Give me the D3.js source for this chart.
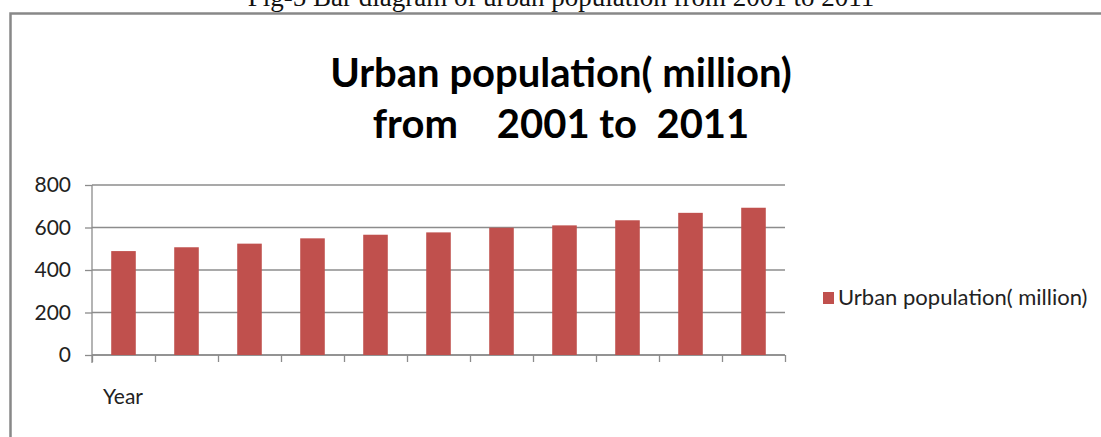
<!DOCTYPE html>
<html>
<head>
<meta charset="utf-8">
<script src="https://cdn.jsdelivr.net/npm/d3@7"></script>
<style>
  body { margin: 0; background: #fff; }
  svg { display: block; }
</style>
</head>
<body>
<div id="chart"></div>
<script>
// data
const years = ['2001', '2002', '2003', '2004', '2005', '2006', '2007', '2008', '2009', '2010', '2011'];
const urbanPop = [489, 507, 524, 549, 566, 577, 599, 610, 634, 669, 693];
const yTicks = [0, 200, 400, 600, 800];
const seriesName = 'Urban population( million)';
const titleLines = ['Urban population( million)', 'from    2001 to  2011'];
const caption = 'Fig-5 Bar diagram of urban population from 2001 to 2011';

const W = 1101, H = 437;
const svg = d3.select('#chart').append('svg')
    .attr('width', W)
    .attr('height', H);

// caption above the frame (cut off at top, as in the source scan)
svg.append('text')
    .attr('x', 561)
    .attr('y', 6)
    .attr('text-anchor', 'middle')
    .style('font-family', '"Liberation Serif", "Times New Roman", serif')
    .style('font-size', '27px')
    .attr('fill', '#111')
    .text(caption);

// chart frame
svg.append('rect')
    .attr('x', 10.5)
    .attr('y', 13.5)
    .attr('width', W + 20)
    .attr('height', H + 20)
    .attr('fill', 'none')
    .attr('stroke', '#888')
    .attr('stroke-width', 2.5);

// title
const title = svg.append('text')
    .attr('text-anchor', 'middle')
    .style('font-family', 'Lato, "Open Sans", sans-serif')
    .style('font-weight', 'bold')
    .style('font-size', '40px')
    .style('white-space', 'pre')
    .attr('fill', '#000');
title.selectAll('tspan')
    .data(titleLines)
    .enter()
    .append('tspan')
    .attr('x', 561)
    .attr('y', (d, i) => 87 + i * 51)
    .text(d => d);

const plotL = 92, plotR = 785, plotT = 185, plotB = 355;

const x = d3.scaleBand()
    .domain(years)
    .range([plotL, plotR])
    .paddingInner(0.61)
    .paddingOuter(0.305);

const xEdge = d3.scaleLinear()
    .domain([0, years.length])
    .range([plotL, plotR]);

const y = d3.scaleLinear()
    .domain([0, 800])
    .range([plotB, plotT]);

// gridlines
svg.append('g')
    .selectAll('line')
    .data(yTicks)
    .enter()
    .append('line')
    .attr('x1', plotL)
    .attr('x2', plotR)
    .attr('y1', d => y(d))
    .attr('y2', d => y(d))
    .attr('stroke', '#8c8c8c')
    .attr('stroke-width', 1.3);

// y axis
const yAxis = svg.append('g')
    .attr('transform', `translate(${plotL},0)`)
    .call(d3.axisLeft(y).tickValues(yTicks).tickSize(7).tickPadding(14));
yAxis.select('.domain').attr('stroke', '#8c8c8c').attr('stroke-width', 1.3)
    .attr('d', `M0,${plotT}V${plotB + 8}`);
yAxis.selectAll('.tick line').attr('stroke', '#8c8c8c').attr('stroke-width', 1.3);
yAxis.selectAll('.tick text')
    .style('font-family', 'Lato, "Open Sans", sans-serif')
    .style('font-size', '21px')
    .attr('fill', '#222');

// x axis (tick marks between categories, no labels)
const xAxis = svg.append('g')
    .attr('transform', `translate(0,${plotB})`)
    .call(d3.axisBottom(xEdge).ticks(years.length).tickSize(7).tickFormat(''));
xAxis.select('.domain').attr('stroke', '#8c8c8c').attr('stroke-width', 1.3)
    .attr('d', `M${plotL},0H${plotR}`);
xAxis.selectAll('.tick line').attr('stroke', '#8c8c8c').attr('stroke-width', 1.3);

// bars
svg.append('g')
    .selectAll('rect')
    .data(urbanPop)
    .enter()
    .append('rect')
    .attr('x', (d, i) => x(years[i]))
    .attr('width', x.bandwidth())
    .attr('y', d => y(d))
    .attr('height', d => y(0) - y(d))
    .attr('fill', '#C0504D');

// x axis title
svg.append('text')
    .attr('x', 103)
    .attr('y', 404)
    .style('font-family', 'Lato, "Open Sans", sans-serif')
    .style('font-size', '21px')
    .attr('fill', '#222')
    .text('Year');

// legend
const legend = svg.append('g').attr('transform', 'translate(823,292)');
legend.append('rect')
    .attr('width', 11)
    .attr('height', 12)
    .attr('fill', '#C0504D');
legend.append('text')
    .attr('x', 15)
    .attr('y', 13)
    .style('font-family', 'Lato, "Open Sans", sans-serif')
    .style('font-size', '22px')
    .attr('fill', '#222')
    .text(seriesName);
</script>
</body>
</html>
